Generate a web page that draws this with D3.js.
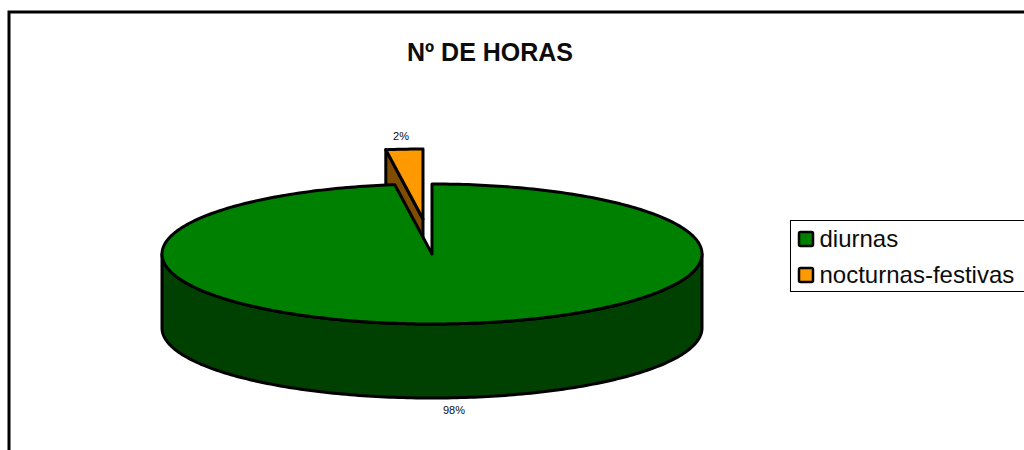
<!DOCTYPE html>
<html>
<head>
<meta charset="utf-8">
<script src="https://cdn.jsdelivr.net/npm/d3@7"></script>
<style>
  html, body { margin: 0; background: white; overflow: hidden; }
  text { font-family: "Liberation Sans", Arial, sans-serif; fill: black; opacity: 0.95; }
</style>
</head>
<body>
<svg class="canvas" width="1024" height="450"></svg>
<script>
// --- Data ---
var categories = ["diurnas", "nocturnas-festivas"];
var hours = [97.8, 2.2];
var percentLabels = ["98%", "2%"];
var topColors = ["#008000", "#ff9900"];
var sideColors = ["#004000", "#804c00"];
var chartTitle = "Nº DE HORAS";

// --- Constants ---
var rx = 270;
var ry = 70;
var depth = 74;
var center = { x: 432, y: 254 };
var explode = { x: -9, y: -35 }; // the small slice is pulled out of the pie

var svg = d3.select(".canvas");

// --- Helpers ---
var slices = d3.pie().sort(null)(hours);

function rim(a, dx, dy) {
  return [dx + rx * Math.sin(a), dy - ry * Math.cos(a)];
}
function rimPoints(a0, a1, dx, dy) {
  var n = Math.max(2, Math.ceil(Math.abs(a1 - a0) * 60));
  var t = d3.scaleLinear().domain([0, n]).range([a0, a1]);
  return d3.range(n + 1).map(function(i) { return rim(t(i), dx, dy); });
}
var line = d3.line();

function drawSlice(d, i, dx, dy) {
  var g = svg.append("g")
    .attr("stroke", "black")
    .attr("stroke-width", 3)
    .attr("stroke-linejoin", "round");

  // outer wall, only the part that faces the viewer
  var a0 = Math.max(d.startAngle, Math.PI / 2);
  var a1 = Math.min(d.endAngle, Math.PI * 3 / 2);
  if (a1 > a0) {
    var upper = rimPoints(a0, a1, dx, dy);
    var lower = rimPoints(a1, a0, dx, dy + depth);
    g.append("path")
      .attr("d", line(upper.concat(lower)) + "Z")
      .attr("fill", sideColors[i]);
  }

  // cut face, only when it turns towards the viewer
  var faces = [];
  if (Math.sin(d.startAngle) < -1e-6) faces.push(d.startAngle);
  if (Math.sin(d.endAngle) > 1e-6) faces.push(d.endAngle);
  faces.forEach(function(a) {
    var p = rim(a, dx, dy);
    g.append("path")
      .attr("d", line([[dx, dy], p, [p[0], p[1] + depth], [dx, dy + depth]]) + "Z")
      .attr("fill", sideColors[i]);
  });

  // top face
  var top = [[dx, dy]].concat(rimPoints(d.startAngle, d.endAngle, dx, dy));
  g.append("path")
    .attr("d", line(top) + "Z")
    .attr("fill", topColors[i]);
}

// --- Action ---
// chart frame, runs off the right and bottom of the picture
svg.append("rect")
  .attr("x", 9)
  .attr("y", 12)
  .attr("width", 1100)
  .attr("height", 600)
  .attr("fill", "white")
  .attr("stroke", "black")
  .attr("stroke-width", 3);

svg.append("text")
  .attr("x", 490)
  .attr("y", 61)
  .attr("text-anchor", "middle")
  .attr("font-size", 25)
  .attr("font-weight", "bold")
  .text(chartTitle);

// exploded slice goes first, the big one covers its lower part
drawSlice(slices[1], 1, center.x + explode.x, center.y + explode.y);
drawSlice(slices[0], 0, center.x, center.y);

svg.append("text")
  .attr("x", 401)
  .attr("y", 140)
  .attr("text-anchor", "middle")
  .attr("font-size", 11)
  .text(percentLabels[1]);
svg.append("text")
  .attr("x", 454)
  .attr("y", 414)
  .attr("text-anchor", "middle")
  .attr("font-size", 11)
  .text(percentLabels[0]);

// legend
var legend = svg.append("g");
legend.append("rect")
  .attr("x", 790.5)
  .attr("y", 220.5)
  .attr("width", 300)
  .attr("height", 71)
  .attr("fill", "white")
  .attr("stroke", "black")
  .attr("stroke-width", 1);

var legendY = d3.scalePoint().domain(categories).range([239, 275]);

categories.forEach(function(c, i) {
  legend.append("rect")
    .attr("x", 799)
    .attr("y", legendY(c))
    .attr("width", 14)
    .attr("height", 14)
    .attr("rx", 1.5)
    .attr("transform", "translate(0,-7)")
    .attr("fill", topColors[i])
    .attr("stroke", "black")
    .attr("stroke-width", 2.5);
  legend.append("text")
    .attr("x", 819.5)
    .attr("y", legendY(c) + 7.5)
    .attr("font-size", 24)
    .text(c);
});
</script>
</body>
</html>
